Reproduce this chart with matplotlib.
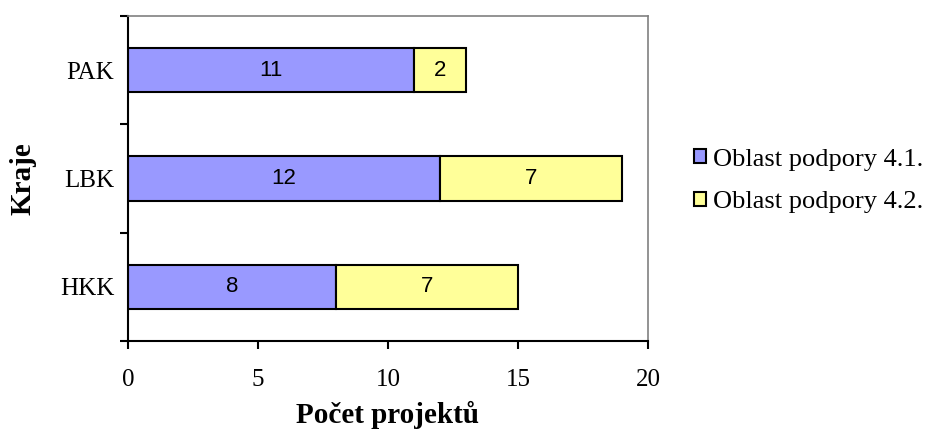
import matplotlib
matplotlib.use("Agg")
import matplotlib.pyplot as plt
import numpy as np

categories = ["HKK", "LBK", "PAK"]
series1 = [8, 12, 11]
series2 = [7, 7, 2]
series_names = ["Oblast podpory 4.1.", "Oblast podpory 4.2."]
xticks = [0, 5, 10, 15, 20]

plt.rcParams['font.family'] = ['Liberation Serif', 'DejaVu Serif']

fig = plt.figure(figsize=(9.28, 4.41), dpi=100)
ax = fig.add_axes([128/928, 1-341/441, 520/928, 325/441])

y = np.arange(len(categories))
h = 0.41
b1 = ax.barh(y, series1, height=h, color="#9999FF", edgecolor="black", linewidth=1.5, label=series_names[0])
b2 = ax.barh(y, series2, left=series1, height=h, color="#FFFF99", edgecolor="black", linewidth=1.5, label=series_names[1])

for bars in (b1, b2):
    for r in bars:
        w = r.get_width()
        ax.text(r.get_x() + w/2, r.get_y() + r.get_height()/2, f"{int(w)}",
                ha="center", va="center", fontsize=16, family=["Liberation Sans"])

ax.set_xlim(0, 20)
ax.set_ylim(-0.5, 2.5)
ax.set_xticks(xticks)
ax.set_xticklabels([str(t) for t in xticks], fontsize=18)
ax.set_yticks(y)
ax.set_yticklabels(categories, fontsize=18)
ax.set_yticks([-0.5, 0.5, 1.5, 2.5], minor=True)
ax.tick_params(axis="y", which="major", length=0, pad=10)
ax.tick_params(axis="y", which="minor", length=6, width=1.5, direction="out")
ax.tick_params(axis="x", length=6, width=1.5, direction="out", pad=14)

for s in ["left", "bottom"]:
    ax.spines[s].set_linewidth(1.5)
    ax.spines[s].set_color("black")
for s in ["top", "right"]:
    ax.spines[s].set_linewidth(1.2)
    ax.spines[s].set_color("#808080")

ax.set_xlabel("Počet projektů", fontsize=21, fontweight="bold", va="center")
ax.xaxis.set_label_coords(0.5, -(415-341)/325)
ax.set_ylabel("Kraje", fontsize=21, fontweight="bold", va="center")
ax.yaxis.set_label_coords(-(128-23)/520, 0.5)

leg = fig.legend(handles=[b1, b2], loc="center left", bbox_to_anchor=(694/928, 1-181/441),
                 frameon=False, fontsize=19, handlelength=0.46, handleheight=0.46,
                 handletextpad=0.25, labelspacing=0.78, borderpad=0, borderaxespad=0)

fig.savefig("out.png", dpi=100)
